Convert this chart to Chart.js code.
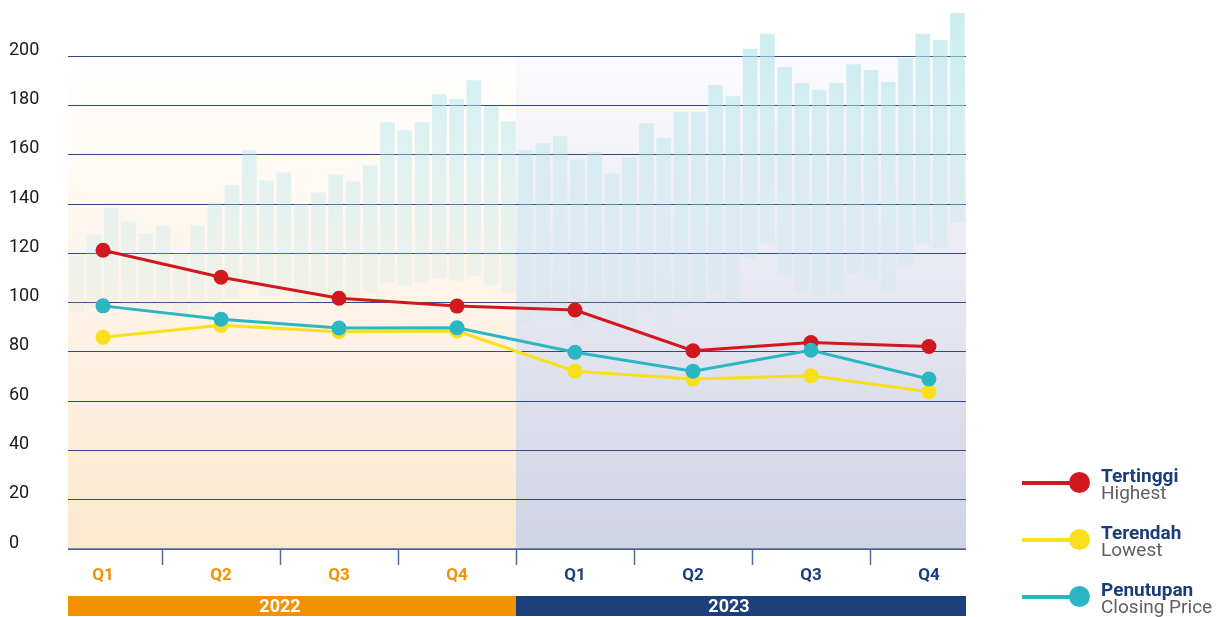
<!DOCTYPE html>
<html>
<head>
<meta charset="utf-8">
<script src="https://cdn.jsdelivr.net/npm/chart.js@4.4.1/dist/chart.umd.min.js"></script>
<style>
    html, body { margin: 0; padding: 0; background: #fff; }
    .wrap { position: relative; width: 1217px; height: 617px; overflow: hidden; font-family: Roboto, sans-serif; }
    #priceChart { position: absolute; left: 0; top: 0; }
    .legend-item { position: absolute; left: 1022px; width: 195px; height: 40px; }
    .legend-line { position: absolute; left: 0; top: 14px; width: 56px; height: 4px; }
    .legend-dot { position: absolute; left: 47px; top: 5px; width: 21px; height: 21px; border-radius: 50%; }
    .legend-text { position: absolute; left: 79px; top: 0; font-size: 19px; line-height: 17px; white-space: nowrap; }
    .legend-text b { display: block; color: #1b3d7a; font-weight: 700; }
    .legend-text span { display: block; color: #606060; }
</style>
</head>
<body>
<div class="wrap">
    <canvas id="priceChart" width="1217" height="617"></canvas>
    <div id="legend"></div>
</div>
<script>
const quarterLabels = ["Q1", "Q2", "Q3", "Q4", "Q1", "Q2", "Q3", "Q4"];
const yearLabels = ["2022", "2023"];
const yTicks = [0, 20, 40, 60, 80, 100, 120, 140, 160, 180, 200];

const highest = [121.3, 110.3, 101.8, 98.6, 97.0, 80.5, 83.8, 82.2];
const lowest = [86.0, 90.8, 88.2, 88.5, 72.2, 69.0, 70.3, 63.8];
const closing = [98.7, 93.3, 89.7, 89.8, 79.9, 72.2, 80.7, 69.0];

// background price bars (decorative, floating low..high)
const barHigh = [
    119, 127.5, 138.5, 132.8, 127.9, 131.2, 120, 131.2, 140.5, 147.5, 161.7, 149.5, 152.7,
    140, 144.6, 151.9, 149.1, 155.6, 173.1, 169.9, 173.1, 184.5, 182.5, 190.2, 179.6, 173.5,
    161.7, 164.6, 167.4, 158, 160.9, 152.3, 158.9, 172.7, 166.6, 177.2, 177.2, 188.2, 183.7,
    202.9, 209, 195.5, 189, 186.2, 189, 196.7, 194.3, 189.4, 199.2, 209, 206.5, 217.5
];
const barLow = [
    96, 98, 101, 99, 97, 98, 95, 97, 100, 102, 106, 103, 104,
    100, 101, 103, 102, 104, 108, 107, 108, 110, 109, 111, 107, 104,
    92, 94, 95, 90, 92, 88, 91, 96, 93, 98, 99, 103.9, 99.8,
    118, 124.2, 110.8, 104.3, 103, 104.3, 112, 109.6, 104.7, 114.5, 124.2, 122.2, 132.8
];
const barLabels = barHigh.map((v, i) => "w" + (i + 1));

const seriesInfo = [
    { title: "Tertinggi", sub: "Highest", color: "#d0181e", data: highest },
    { title: "Terendah", sub: "Lowest", color: "#f8e01c", data: lowest },
    { title: "Penutupan", sub: "Closing Price", color: "#2cb6c3", data: closing },
];

function barFill(context) {
    const chart = context.chart;
    const area = chart.chartArea;
    if (!area) return "rgba(178,226,232,0.4)";
    const g = chart.ctx.createLinearGradient(0, area.top, 0, area.bottom);
    g.addColorStop(0, "rgba(180,228,234,0.7)");
    g.addColorStop(0.3, "rgba(180,228,234,0.38)");
    g.addColorStop(0.6, "rgba(180,228,234,0.1)");
    g.addColorStop(1, "rgba(180,228,234,0)");
    return g;
}

const panelPlugin = {
    id: "panels",
    beforeDraw(chart) {
        const { ctx, chartArea, scales } = chart;
        const top = scales.y.getPixelForValue(200);
        const bottom = scales.y.getPixelForValue(0);
        const mid = scales.x.getPixelForValue(3.5);

        const leftFill = ctx.createLinearGradient(0, top, 0, bottom);
        leftFill.addColorStop(0, "#ffffff");
        leftFill.addColorStop(1, "#fde8cf");
        const rightFill = ctx.createLinearGradient(0, top, 0, bottom);
        rightFill.addColorStop(0, "#fbfbfd");
        rightFill.addColorStop(1, "#d0d3e4");

        ctx.save();
        ctx.fillStyle = leftFill;
        ctx.fillRect(chartArea.left, top, mid - chartArea.left, bottom - top);
        ctx.fillStyle = rightFill;
        ctx.fillRect(mid, top, chartArea.right - mid, bottom - top);
        ctx.restore();
    },
    afterDraw(chart) {
        const { ctx, chartArea, scales } = chart;
        const bottom = scales.y.getPixelForValue(0);
        const mid = scales.x.getPixelForValue(3.5);

        ctx.save();
        // axis line and quarter dividers
        ctx.strokeStyle = "#4f6a9d";
        ctx.lineWidth = 1.5;
        ctx.beginPath();
        ctx.moveTo(chartArea.left, bottom);
        ctx.lineTo(chartArea.right, bottom);
        for (let i = 0; i < quarterLabels.length - 1; i++) {
            const x = Math.round(scales.x.getPixelForValue(i + 0.5)) + 0.5;
            ctx.moveTo(x, bottom);
            ctx.lineTo(x, bottom + 16);
        }
        ctx.stroke();

        // year bands
        const bandTop = bottom + 47;
        const bands = [
            { x0: chartArea.left, x1: mid, color: "#f29100" },
            { x0: mid, x1: chartArea.right, color: "#1b3f7a" },
        ];
        ctx.font = "bold 18px Roboto, sans-serif";
        ctx.textAlign = "center";
        ctx.textBaseline = "middle";
        bands.forEach((b, i) => {
            ctx.fillStyle = b.color;
            ctx.fillRect(b.x0, bandTop, b.x1 - b.x0, 20);
            ctx.fillStyle = "#ffffff";
            ctx.fillText(yearLabels[i], (b.x0 + b.x1) / 2 - 12, bandTop + 11);
        });
        ctx.restore();
    },
};

function buildLegend() {
    const tops = [467, 524, 581];
    const html = seriesInfo.map((s, i) =>
        '<div class="legend-item" style="top:' + tops[i] + 'px">' +
        '<div class="legend-line" style="background:' + s.color + '"></div>' +
        '<div class="legend-dot" style="background:' + s.color + '"></div>' +
        '<div class="legend-text"><b>' + s.title + '</b><span>' + s.sub + '</span></div>' +
        '</div>'
    ).join("");
    document.getElementById("legend").innerHTML = html;
}

function lineDataset(s, order) {
    return {
        type: "line",
        label: s.title,
        data: s.data.map((v, i) => ({ x: i, y: v })),
        xAxisID: "x",
        yAxisID: "y",
        borderColor: s.color,
        backgroundColor: s.color,
        borderWidth: 3,
        pointRadius: 7.5,
        pointBorderWidth: 0,
        pointBackgroundColor: s.color,
        tension: 0,
        order: order,
    };
}

function initializeChart() {
    const ctx = document.getElementById("priceChart").getContext("2d");
    new Chart(ctx, {
        type: "line",
        data: {
            datasets: [
                {
                    type: "bar",
                    label: "bars",
                    data: barHigh.map((h, i) => [barLow[i], h]),
                    xAxisID: "xb",
                    yAxisID: "y",
                    backgroundColor: barFill,
                    borderWidth: 0,
                    barThickness: 14,
                    grouped: false,
                    order: 3,
                },
                lineDataset(seriesInfo[1], 2),
                lineDataset(seriesInfo[0], 1),
                lineDataset(seriesInfo[2], 0),
            ],
        },
        options: {
            responsive: false,
            devicePixelRatio: 1,
            animation: false,
            layout: { padding: { left: 9, right: 251, top: 12, bottom: 0 } },
            plugins: {
                legend: { display: false },
                tooltip: { enabled: false },
            },
            scales: {
                x: {
                    type: "linear",
                    min: -0.297,
                    max: 7.314,
                    offset: false,
                    afterBuildTicks: (scale) => {
                        scale.ticks = quarterLabels.map((q, i) => ({ value: i }));
                    },
                    afterFit: (scale) => {
                        scale.height = 68;
                    },
                    grid: { display: false, drawTicks: false },
                    border: { display: false },
                    ticks: {
                        autoSkip: false,
                        maxRotation: 0,
                        padding: 17,
                        font: { family: "Roboto", size: 17, weight: "bold" },
                        color: (c) => (c.index < 4 ? "#f29100" : "#1b3d7a"),
                        callback: (value) => quarterLabels[value],
                    },
                },
                xb: {
                    type: "category",
                    labels: barLabels,
                    display: false,
                    offset: true,
                },
                y: {
                    min: 0,
                    max: 218,
                    afterBuildTicks: (scale) => {
                        scale.ticks = yTicks.map((v) => ({ value: v }));
                    },
                    afterFit: (scale) => {
                        scale.width = 59;
                    },
                    grid: { color: "#2d4a85", lineWidth: 1, drawTicks: false },
                    border: { display: false },
                    ticks: {
                        crossAlign: "far",
                        labelOffset: -6,
                        padding: 0,
                        font: { family: "Roboto", size: 18 },
                        color: "#1a1a1a",
                    },
                },
            },
        },
        plugins: [panelPlugin],
    });
}

buildLegend();
initializeChart();
</script>
</body>
</html>
